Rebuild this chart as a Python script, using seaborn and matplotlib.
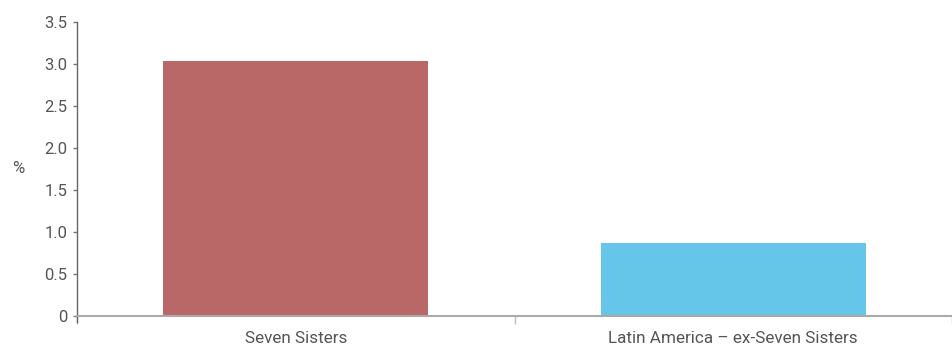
import matplotlib
matplotlib.use("Agg")
import matplotlib.pyplot as plt
import seaborn as sns
import pandas as pd

categories = ["Seven Sisters", "Latin America \u2013 ex-Seven Sisters"]
values = [3.03, 0.87]
colors = ["#BA6767", "#66C6EA"]
yticks = [0, 0.5, 1.0, 1.5, 2.0, 2.5, 3.0, 3.5]
ytick_labels = ["0", "0.5", "1.0", "1.5", "2.0", "2.5", "3.0", "3.5"]

sns.set_theme(style="white")
plt.rcParams["font.family"] = ["Roboto", "DejaVu Sans"]

df = pd.DataFrame({"cat": categories, "val": values})

fig = plt.figure(figsize=(9.52, 3.47), dpi=100)
ax = fig.add_axes([77/952, 31/347, 1 - 77/952, (316-22)/347])
sns.barplot(data=df, x="cat", y="val", hue="cat", palette=colors, width=0.606,
            legend=False, ax=ax, saturation=1, linewidth=0)

ax.set_xlim(-0.5, 1.5)
ax.set_ylim(0, 3.5)
ax.set_yticks(yticks)
ax.set_yticklabels(ytick_labels)
ax.set_xticks([0, 1])
ax.set_xticklabels(categories)
ax.set_xticks([-0.5, 0.5, 1.5], minor=True)
ax.tick_params(axis="x", which="major", length=0, pad=11, labelsize=12.3, labelcolor="#555555")
ax.tick_params(axis="x", which="minor", length=6, width=1, color="#bbbbbb", bottom=True)
ax.tick_params(axis="y", length=3, width=1, color="#777777", left=True, pad=4,
               labelsize=12, labelcolor="#555555")
ax.set_xlabel("")
ax.set_ylabel("")
fig.text(18/952, 1 - 168/347, "%", ha="center", va="center", fontsize=12, color="#555555")

for s in ["top", "right"]:
    ax.spines[s].set_visible(False)
ax.spines["left"].set_color("#666666")
ax.spines["left"].set_linewidth(1)
ax.spines["left"].set_bounds(-0.07, 3.5)
ax.spines["bottom"].set_color("#aaaaaa")
ax.spines["bottom"].set_linewidth(1.5)
ax.set_facecolor("white")

fig.savefig("out.png", dpi=100, facecolor="white")
